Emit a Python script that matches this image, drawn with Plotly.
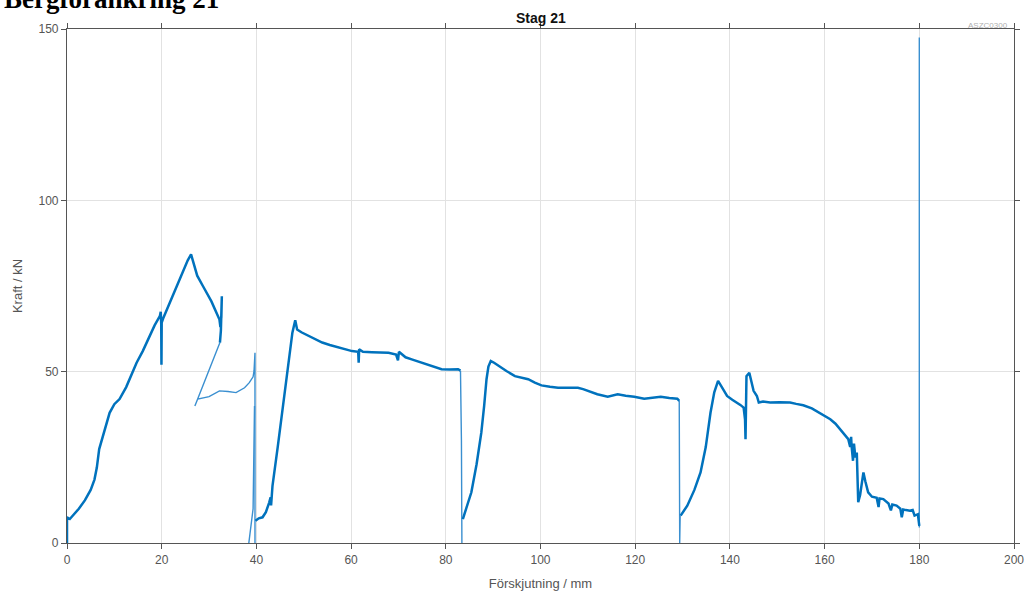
import plotly.graph_objects as go

# ---- data ----
# thick measured curve segments (None separates segments)
x_main = [0, 0, 0.6, 1.3, 2.5, 3.8, 5.0, 5.8, 6.3, 6.8, 7.5, 8.3, 9.0, 10.0, 11.1, 12.5, 14.7, 16.0, 17.5,
          18.5, 19.6, 19.8, 19.9, 19.95, 20.0, 20.3, 22.0, 24.0, 25.5, 26.2, 26.7, 27.5, 28.7, 30.5, 32.2,
          32.4, 32.6, 32.7, 32.5, 32.3,
          None,
          39.8, 40.5, 41.3, 42.0, 42.7, 43.0, 43.1, 43.4, 44.5, 45.5, 46.5, 47.6, 48.2, 48.6, 49.5, 50.4,
          52.0, 53.9, 55.5, 57.4, 59.0, 60.2, 61.5, 61.6, 61.7, 62.5, 64.4, 66.0, 67.9, 69.5, 69.9, 70.1,
          71.5, 72.8, 74.5, 76.3, 77.8, 79.1, 80.8, 82.6, 83.1,
          None,
          83.6, 84.5, 85.4, 86.5, 87.5, 88.1, 88.6, 89.0, 89.5, 90.2, 91.1, 92.8, 94.6, 96.0, 97.4, 98.8,
          100.2, 102.0, 103.7, 105.8, 107.9, 109.0, 110.0, 112.0, 114.2, 116.3, 118.0, 119.8, 121.9, 123.6,
          125.4, 127.2, 128.9, 129.3,
          None,
          129.6, 131.0, 132.5, 133.8, 134.9, 135.9, 136.7, 137.5, 138.3, 139.4, 140.5, 141.5, 142.2, 142.9,
          143.2, 143.3, 143.4, 143.5, 144.1, 144.5, 145.0, 145.7, 146.1, 147.0, 148.5, 150.5, 152.7, 154.0,
          155.5, 157.3, 159.0, 160.2, 161.2, 162.3, 163.3, 164.2, 165.0, 165.4, 165.6, 165.7, 166.0, 166.2,
          166.5, 166.8, 167.1, 167.5, 168.2, 168.6, 169.2, 170.0, 171.0, 171.4, 171.6, 172.4, 173.5, 174.0,
          174.3, 175.2, 176.0, 176.3, 176.6, 177.2, 178.0, 178.6, 179.0, 179.7, 180.0]
y_main = [0, 7.5, 7.0, 8.0, 10.0, 12.5, 15.5, 18.5, 22.0, 27.4, 31.0, 35.0, 38.0, 40.5, 42.0, 45.5, 52.6, 56.0, 60.4,
          63.5, 66.2, 67.5, 64.0, 52.0, 64.3, 65.5, 71.0, 77.5, 82.5, 84.2, 82.0, 78.0, 75.0, 70.5, 65.2,
          63.0, 66.0, 72.0, 62.0, 58.5,
          None,
          6.5, 7.2, 7.5, 9.0, 11.8, 13.3, 11.0, 16.7, 28.0, 39.0, 50.0, 61.4, 65.0, 62.3, 61.5, 60.9,
          59.7, 58.5, 57.8, 57.0, 56.3, 56.0, 55.8, 52.6, 56.5, 55.8, 55.7, 55.6, 55.5, 55.0, 53.3, 55.8,
          54.2, 53.6, 52.8, 52.1, 51.3, 50.7, 50.6, 50.7, 50.3,
          None,
          7.0, 11.0, 14.8, 23.0, 32.2, 40.0, 47.8, 51.5, 53.1, 52.6, 51.7, 50.2, 48.7, 48.2, 47.8, 46.8,
          46.0, 45.6, 45.3, 45.3, 45.3, 44.9, 44.4, 43.4, 42.7, 43.4, 43.0, 42.7, 42.1, 42.4,
          42.7, 42.3, 42.1, 41.5,
          None,
          8.0, 10.9, 15.5, 20.6, 28.0, 38.0, 44.0, 47.3, 45.5, 42.9, 41.8, 41.0, 40.3, 39.5,
          36.0, 30.3, 40.0, 48.7, 49.7, 47.5, 44.4, 42.9, 41.0, 41.3, 41.0, 41.1, 41.0, 40.6,
          40.2, 39.3, 38.0, 37.1, 36.1, 34.8, 33.2, 31.8, 30.3, 28.0, 31.0, 28.3, 24.0, 29.0,
          25.0, 26.4, 11.9, 14.0, 20.6, 18.0, 14.8, 13.5, 13.2, 10.5, 13.0, 12.8, 11.5, 9.5,
          11.2, 10.9, 10.0, 7.5, 9.8, 9.6, 9.4, 9.6, 8.0, 8.4, 5.0]

# thin connecting / unloading lines
x_thin = [32.3, 30.5, 28.5, 27.3, 27.0, 27.6, 30.0, 32.2, 34.0, 35.7, 37.5, 38.5, 39.3, 39.5, 39.7, 39.7,
          None, 38.4, 39.3, 39.6,
          None, 83.1, 83.3, 83.4,
          None, 129.3, 129.4, 129.5,
          None, 180.0, 180.0]
y_thin = [58.5, 52.0, 45.0, 41.0, 40.0, 42.0, 42.7, 44.4, 44.2, 43.9, 45.3, 46.8, 48.5, 50.2, 55.5, 0.0,
          None, 0.0, 10.0, 40.0,
          None, 50.3, 30.0, 0.0,
          None, 41.5, 0.0, 8.0,
          None, 4.5, 147.5]

x_ticks = [0, 20, 40, 60, 80, 100, 120, 140, 160, 180, 200]
y_ticks = [0, 50, 100, 150]

blue = "#0072BD"
fig = go.Figure()
fig.add_trace(go.Scatter(x=x_thin, y=y_thin, mode="lines",
                         line=dict(color="#3a8fd0", width=1.4), hoverinfo="skip"))
fig.add_trace(go.Scatter(x=x_main, y=y_main, mode="lines",
                         line=dict(color=blue, width=2.5)))

tickfont = dict(family="Liberation Sans, Arial, sans-serif", size=12, color="#555555")
fig.update_layout(
    width=1036, height=601,
    margin=dict(l=67, r=18, t=29, b=57),
    plot_bgcolor="white", paper_bgcolor="white",
    showlegend=False,
    font=dict(family="Liberation Sans, Arial, sans-serif"),
)
fig.update_xaxes(range=[0, 200], tickvals=x_ticks, showgrid=True, gridcolor="#e2e2e2", gridwidth=1,
                 showline=True, linecolor="#555555", linewidth=1.2, mirror="ticks",
                 ticks="outside", ticklen=5, tickcolor="#555555", zeroline=False,
                 tickfont=tickfont,
                 title=dict(text="Förskjutning / mm", font=dict(size=13, color="#555555"), standoff=13))
fig.update_yaxes(range=[0, 150], tickvals=y_ticks, showgrid=True, gridcolor="#e2e2e2", gridwidth=1,
                 showline=True, linecolor="#555555", linewidth=1.2, mirror="ticks",
                 ticks="outside", ticklen=5, tickcolor="#555555", zeroline=False,
                 tickfont=tickfont,
                 title=dict(text="Kraft / kN", font=dict(size=13, color="#555555"), standoff=12))

fig.add_annotation(text="<b>Stag 21</b>", xref="paper", yref="paper", x=0.5, y=1, yanchor="bottom",
                   yshift=1, showarrow=False,
                   font=dict(family="Liberation Sans, Arial, sans-serif", size=14, color="#111111"))
fig.add_annotation(text="<b>Bergförankring 21</b>", xref="paper", yref="paper", x=0, xanchor="left",
                   xshift=-65, y=1, yanchor="bottom", yshift=13, showarrow=False,
                   font=dict(family="Liberation Serif, serif", size=27, color="#000000"))
fig.add_annotation(text="ASZC0300", xref="paper", yref="paper", x=1, xanchor="right", xshift=-4,
                   y=1, yanchor="bottom", yshift=-3, showarrow=False,
                   font=dict(family="Liberation Sans, Arial, sans-serif", size=8, color="#b0b0b0"))

fig.write_html("out.html")
